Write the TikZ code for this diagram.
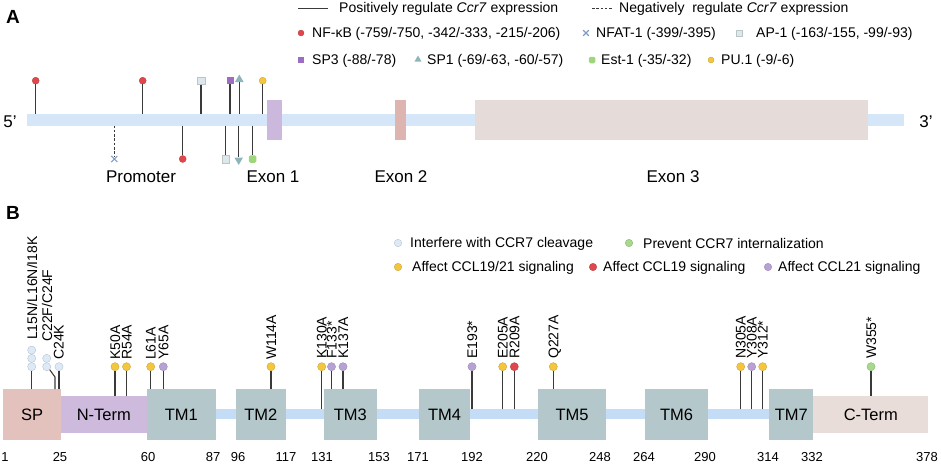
\documentclass[tikz,border=0pt]{standalone}
\usepackage{fontspec}
\setmainfont{Liberation Sans}
\usetikzlibrary{shapes.geometric,shapes.misc}
\definecolor{cLineA}{HTML}{D6E6F9}
\definecolor{cBarB}{HTML}{C4DCF6}
\definecolor{cEx1}{HTML}{CBB8DC}
\definecolor{cEx2}{HTML}{DDB4B0}
\definecolor{cEx3}{HTML}{E5DCD9}
\definecolor{cSP}{HTML}{E3C1BC}
\definecolor{cNT}{HTML}{CDBADC}
\definecolor{cTM}{HTML}{B4C7CA}
\definecolor{cCT}{HTML}{E8DDD9}
\definecolor{cStem}{HTML}{3A3A3A}
\definecolor{cRed}{HTML}{E0474C}
\definecolor{cYel}{HTML}{F4C63E}
\definecolor{cPur}{HTML}{B8A2D5}
\definecolor{cCle}{HTML}{DCE9F7}
\definecolor{cGrn}{HTML}{A5DA8A}
\definecolor{cAP}{HTML}{DCE8EB}
\definecolor{cSPthree}{HTML}{9D6DC4}
\definecolor{cSPone}{HTML}{8DB5BA}
\definecolor{cEst}{HTML}{9ED67C}
\definecolor{cNFAT}{HTML}{7F9CC6}
\tikzset{
  stemline/.style={draw=cStem,line width=1.1pt},
  leg/.style={anchor=west,inner sep=0pt,font=\fontsize{14}{16}\selectfont},
  big/.style={inner sep=0pt,font=\fontsize{17}{19}\selectfont},
  numlab/.style={inner sep=0pt,font=\fontsize{13}{15}\selectfont},
  panel/.style={inner sep=0pt,font=\fontsize{19}{21}\selectfont\bfseries},
  mut/.style={rotate=90,anchor=base west,inner sep=0pt,font=\fontsize{14}{16}\selectfont},
  ballA/.style={circle,inner sep=0pt,minimum size=7pt,fill=#1,draw=#1!80!black,line width=0.3pt},
  ballB/.style={circle,inner sep=0pt,minimum size=8.2pt,fill=#1,draw=#1!80!black,line width=0.3pt},
  apsq/.style={rectangle,inner sep=0pt,minimum size=7.5pt,fill=cAP,draw=cAP!85!black,line width=0.3pt},
  spsq/.style={rectangle,inner sep=0pt,minimum size=7pt,fill=cSPthree},
  trimark/.style={regular polygon,regular polygon sides=3,inner sep=0pt,minimum size=10pt,fill=cSPone},
  estsq/.style={rectangle,rounded corners=1.5pt,inner sep=0pt,minimum size=7.5pt,fill=cEst},
  nfatx/.style={cross out,draw=cNFAT,line width=1.1pt,inner sep=0pt,minimum size=5pt},
  dom/.style={rectangle,inner sep=0pt,font=\fontsize{16.5}{18}\selectfont}
}
\begin{document}
\begin{tikzpicture}[x=1pt,y=-1pt]
\useasboundingbox (0,0) rectangle (941,466);
% ---------------- Panel A ----------------
\node[panel] (pA) at (13,17) {A};
% legend row 1
\coordinate (l1a) at (298,8); \coordinate (l1b) at (328,8);
\draw[stemline,line width=0.9pt] (l1a) -- (l1b);
\node[leg] (t1) at (339,8.5) {Positively regulate \textit{Ccr7} expression};
\coordinate (l2a) at (592,8); \coordinate (l2b) at (613,8);
\draw[stemline,line width=0.9pt,dash pattern=on 2.5pt off 1.8pt] (l2a) -- (l2b);
\node[leg] (t2) at (619,8.5) {Negatively\ \ regulate \textit{Ccr7} expression};
% legend row 2
\node[ballA=cRed,minimum size=6pt] (g1) at (301,33) {};
\node[leg] (g1t) at (312,33.5) {NF-κB (-759/-750, -342/-333, -215/-206)};
\node[nfatx,minimum size=4.5pt] (g2) at (586,33) {};
\node[leg] (g2t) at (596,33.5) {NFAT-1 (-399/-395)};
\node[apsq,minimum size=6.5pt] (g3) at (739,33) {};
\node[leg] (g3t) at (756,33.5) {AP-1 (-163/-155, -99/-93)};
% legend row 3
\node[spsq,minimum size=6pt] (g4) at (301,60) {};
\node[leg] (g4t) at (312,60.5) {SP3 (-88/-78)};
\node[trimark,minimum size=8pt] (g5) at (418,59.5) {};
\node[leg] (g5t) at (427,60.5) {SP1 (-69/-63, -60/-57)};
\node[estsq,minimum size=6.5pt] (g6) at (592,60) {};
\node[leg] (g6t) at (601,60.5) {Est-1 (-35/-32)};
\node[ballA=cYel,minimum size=6pt] (g7) at (711,60) {};
\node[leg] (g7t) at (721,60.5) {PU.1 (-9/-6)};
% gene line and exons
\fill[cLineA] (27,114) rectangle (904,125.5);
\node[rectangle,fill=cEx1,inner sep=0pt,minimum width=15pt,minimum height=40pt] (ex1) at (274.5,120) {};
\node[rectangle,fill=cEx2,inner sep=0pt,minimum width=10.5pt,minimum height=40pt] (ex2) at (400.5,120) {};
\node[rectangle,fill=cEx3,inner sep=0pt,minimum width=393pt,minimum height=40pt] (ex3) at (671.5,120) {};
\node[big] (five) at (10,121.5) {5’};
\node[big] (three) at (926,121.5) {3’};
% top lollipops (positive)
\foreach \n/\x in {a1/35.7,a2/142.7,a3/201,a4/230,a5/239.3,a6/262.7}{
  \coordinate (\n base) at (\x,114);
}
\node[ballA=cRed] (a1) at (35.7,80.7) {};
\node[ballA=cRed] (a2) at (142.7,80.7) {};
\node[apsq] (a3) at (201,80.7) {};
\node[spsq] (a4) at (230,80.7) {};
\node[trimark] (a5) at (239.3,79.5) {};
\node[ballA=cYel] (a6) at (262.7,80.7) {};
\foreach \n in {a1,a2,a3,a4,a5,a6}{ \draw[stemline] (\n base) -- (\n.south); }
% bottom lollipops
\coordinate (b1base) at (114.3,125.5);
\coordinate (b2base) at (182.7,125.5);
\coordinate (b3base) at (225.7,125.5);
\coordinate (b4base) at (238.7,125.5);
\coordinate (b5base) at (252.7,125.5);
\node[nfatx] (b1) at (114.3,159) {};
\node[ballA=cRed] (b2) at (182.7,159) {};
\node[apsq] (b3) at (225.7,159) {};
\node[trimark,shape border rotate=180] (b4) at (238.7,160) {};
\node[estsq] (b5) at (252.7,159) {};
\draw[draw=cStem,line width=1.1pt,dash pattern=on 2.5pt off 1.8pt] (b1base) -- (b1.north);
\draw[stemline] (b2base) -- (b2.north);
\draw[stemline] (b3base) -- (b3.north);
\draw[stemline] (b4base) -- (b4.north);
\draw[stemline] (b5base) -- (b5.north);
% labels
\node[big] (prom) at (141,176.5) {Promoter};
\node[big] (ex1l) at (273,176.5) {Exon 1};
\node[big] (ex2l) at (401,176.5) {Exon 2};
\node[big] (ex3l) at (673,176.5) {Exon 3};
% ---------------- Panel B ----------------
\node[panel] (pB) at (13,213) {B};
% legend
\node[ballB=cCle,minimum size=7.5pt] (k1) at (398,243) {};
\node[leg] (k1t) at (410,243.5) {Interfere with CCR7 cleavage};
\node[ballB=cGrn,minimum size=7.5pt] (k2) at (629,243) {};
\node[leg] (k2t) at (643,243.5) {Prevent CCR7 internalization};
\node[ballB=cYel,minimum size=7.5pt] (k3) at (398,267) {};
\node[leg] (k3t) at (412,267.5) {Affect CCL19/21 signaling};
\node[ballB=cRed,minimum size=7.5pt] (k4) at (593,267) {};
\node[leg] (k4t) at (603,267.5) {Affect CCL19 signaling};
\node[ballB=cPur,minimum size=7.5pt] (k5) at (768,267) {};
\node[leg] (k5t) at (778,267.5) {Affect CCL21 signaling};
% bar
\fill[cBarB] (146,409.3) rectangle (813,419.3);
% domains
\node[dom,fill=cSP,minimum width=57.7pt,minimum height=51pt] (sp) at (32.2,414.5) {SP};
\node[dom,fill=cNT,minimum width=85.7pt,minimum height=37pt] (nt) at (103.85,414.5) {N-Term};
\node[dom,fill=cTM,minimum width=69.3pt,minimum height=51pt] (tm1) at (181.35,414.5) {TM1};
\node[dom,fill=cTM,minimum width=50.3pt,minimum height=51pt] (tm2) at (260.85,414.5) {TM2};
\node[dom,fill=cTM,minimum width=52.7pt,minimum height=51pt] (tm3) at (350.35,414.5) {TM3};
\node[dom,fill=cTM,minimum width=50.7pt,minimum height=51pt] (tm4) at (444.65,414.5) {TM4};
\node[dom,fill=cTM,minimum width=67.7pt,minimum height=51pt] (tm5) at (572.15,414.5) {TM5};
\node[dom,fill=cTM,minimum width=63.3pt,minimum height=51pt] (tm6) at (676.65,414.5) {TM6};
\node[dom,fill=cTM,minimum width=44pt,minimum height=51pt] (tm7) at (791.3,414.5) {TM7};
\node[dom,fill=cCT,minimum width=115pt,minimum height=37pt] (ct) at (870.8,414.5) {C-Term};
% numbers
\foreach \n/\x in {1/5,25/60,60/148,87/213,96/238,117/286,131/322,153/379,171/418,192/472,220/537,248/600,264/644,290/705,314/768,332/812,378/927}{
  \node[numlab] (n\n) at (\x,457) {\n};
}
% B lollipops: name/x/colour/target y
\foreach \n/\x/\c/\ty in {m3/59/cCle/389,m4/115/cYel/396,m5/126.5/cYel/396,m6/150.7/cYel/389,m7/163.3/cPur/389,m8/271/cYel/389,m9/321.7/cYel/409.3,m10/331.5/cPur/389,m11/343/cPur/389,m12/472/cPur/409.3,m13/502.7/cYel/409.3,m14/514.3/cRed/409.3,m15/553.3/cYel/389,m16/740.7/cYel/409.3,m17/751.7/cPur/409.3,m18/762.7/cYel/409.3,m19/871/cGrn/396}{
  \coordinate (\n base) at (\x,\ty);
  \node[ballB=\c] (\n) at (\x,366.7) {};
  \draw[stemline] (\n base) -- (\n.south);
}
% stacked ones
\coordinate (m1base) at (31.7,389);
\node[ballB=cCle] (m1c) at (31.7,366.7) {};
\node[ballB=cCle] (m1b) at (31.7,358.4) {};
\node[ballB=cCle] (m1a) at (31.7,350.1) {};
\draw[stemline] (m1base) -- (m1c.south);
\coordinate (m2base) at (55,389);
\coordinate (m2knee) at (55,377);
\node[ballB=cCle] (m2c) at (46.7,366.7) {};
\node[ballB=cCle] (m2b) at (46.7,358.4) {};
\draw[stemline] (m2base) -- (m2knee) -- (m2c.south east);
% mutation labels
\node[mut] (L1) at (37,340) {L15N/L16N/I18K};
\node[mut] (L2) at (52,342) {C22F/C24F};
\node[mut] (L3) at (63.5,360) {C24K};
\node[mut] (L4) at (120,360) {K50A};
\node[mut] (L5) at (131.5,360) {R54A};
\node[mut] (L6) at (155.7,360) {L61A};
\node[mut] (L7) at (168.3,360) {Y65A};
\node[mut] (L8) at (276,360) {W114A};
\node[mut] (L9) at (326.7,359) {K130A};
\node[mut] (L10) at (336.5,359) {F133*};
\node[mut] (L11) at (348,359) {K137A};
\node[mut] (L12) at (477,359) {E193*};
\node[mut] (L13) at (507.7,359) {E205A};
\node[mut] (L14) at (519.3,359) {R209A};
\node[mut] (L15) at (558.3,359) {Q227A};
\node[mut] (L16) at (745.7,359) {N305A};
\node[mut] (L17) at (756.7,359) {Y308A};
\node[mut] (L18) at (767.7,359) {Y312*};
\node[mut] (L19) at (876,359) {W355*};
\end{tikzpicture}
\end{document}
